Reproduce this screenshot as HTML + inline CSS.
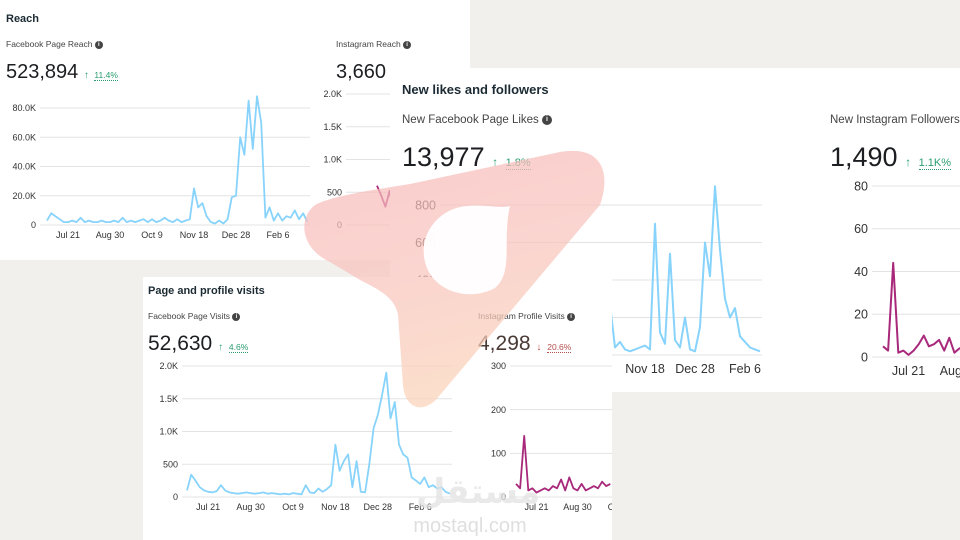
<!DOCTYPE html>
<html><head><meta charset="utf-8">
<style>
*{margin:0;padding:0;box-sizing:border-box}
body{width:960px;height:540px;overflow:hidden;background:#f1f0ed;font-family:"Liberation Sans",sans-serif;color:#1c1e21;position:relative}
.panel{position:absolute;background:#fff;overflow:hidden}
.t{position:absolute;white-space:nowrap}
.title{font-weight:bold;color:#1c2b33}
.sub{color:#444}
.num{color:#1c1e21}
.up{color:#2a9d6f}
.dn{color:#b5504d}
.pct{border-bottom:1px dotted currentColor}
.info{display:inline-block;border-radius:50%;background:#444;color:#fff;text-align:center;font-weight:bold;vertical-align:middle}
.panel svg{position:absolute;left:0;top:0;overflow:hidden}
.panel svg text{font-family:"Liberation Sans",sans-serif;fill:#333}
#logo{position:absolute;left:0;top:0}
</style></head><body>

<div class="panel" style="left:0;top:0;width:470px;height:260px">
  <div class="t title" style="left:6px;top:13px;font-size:11px">Reach</div>
  <div class="t sub" style="left:6px;top:39px;font-size:8.5px">Facebook Page Reach <span class="info" style="width:8px;height:8px;font-size:6px;line-height:8px">i</span></div>
  <div class="t num" style="left:6px;top:61px;font-size:20px">523,894 <span class="up" style="font-size:10px">↑</span> <span class="up pct" style="font-size:8.5px">11.4%</span></div>
  <div class="t sub" style="left:336px;top:39px;font-size:8.5px">Instagram Reach <span class="info" style="width:8px;height:8px;font-size:6px;line-height:8px">i</span></div>
  <div class="t num" style="left:336px;top:61px;font-size:20px">3,660</div>
  <svg id="s1" width="470" height="260"></svg>
</div>

<div class="panel" style="left:390px;top:68px;width:570px;height:324px">
  <div class="t title" style="left:12px;top:14px;font-size:13px">New likes and followers</div>
  <div class="t sub" style="left:12px;top:46px;font-size:11.5px">New Facebook Page Likes <span class="info" style="width:10px;height:10px;font-size:7px;line-height:10px">i</span></div>
  <div class="t num" style="left:12px;top:74px;font-size:27px">13,977 <span class="up" style="font-size:12px">↑</span> <span class="up pct" style="font-size:11px">1.8%</span></div>
  <div class="t sub" style="left:440px;top:46px;font-size:11.5px">New Instagram Followers</div>
  <div class="t num" style="left:440px;top:74px;font-size:27px">1,490 <span class="up" style="font-size:12px">↑</span> <span class="up pct" style="font-size:11px">1.1K%</span></div>
  <svg id="s2" width="570" height="324"></svg>
</div>

<div class="panel" style="left:143px;top:277px;width:469px;height:263px">
  <div class="t title" style="left:5px;top:8px;font-size:11px">Page and profile visits</div>
  <div class="t sub" style="left:5px;top:34px;font-size:8.5px">Facebook Page Visits <span class="info" style="width:8px;height:8px;font-size:6px;line-height:8px">i</span></div>
  <div class="t num" style="left:5px;top:55px;font-size:21px">52,630 <span class="up" style="font-size:10px">↑</span> <span class="up pct" style="font-size:8.5px">4.6%</span></div>
  <div class="t sub" style="left:335px;top:34px;font-size:8.5px">Instagram Profile Visits <span class="info" style="width:8px;height:8px;font-size:6px;line-height:8px">i</span></div>
  <div class="t num" style="left:335px;top:55px;font-size:21px;color:#4a3a36">4,298 <span class="dn" style="font-size:10px">↓</span> <span class="dn pct" style="font-size:8.5px">20.6%</span></div>
  <svg id="s3" width="469" height="263"></svg>
</div>

<svg id="logo" width="960" height="540" style="pointer-events:none">
  <defs><linearGradient id="lg" x1="0" y1="0" x2="0.3" y2="1">
    <stop offset="0" stop-color="#f7b9b9"/><stop offset="0.5" stop-color="#f8c3bd"/><stop offset="1" stop-color="#fad2b8"/></linearGradient></defs>
  <path d="M315,205 C330,197 360,192 410,184 L560,152 C600,145 612,170 600,205 L440,395 C425,415 405,410 403,385 L398,315 C395,298 380,290 360,280 L330,262 C300,248 298,218 315,205 Z" fill="url(#lg)" opacity="0.72"/>
  <path d="M510,206 C502,240 514,272 495,288 C470,302 432,292 425,262 C418,233 440,208 467,206 C485,204 500,209 510,206 Z" fill="#fff" opacity="0.95"/>
  <text x="478" y="503" text-anchor="middle" style="font-size:34px;fill:#e2e2e2;opacity:0.75;font-family:'DejaVu Sans',sans-serif;font-weight:bold">مستقل</text>
  <text x="470" y="532" text-anchor="middle" style="font-size:20px;fill:#dcdcdc;opacity:0.9;font-family:'Liberation Sans',sans-serif">mostaql.com</text>
</svg>

<script>
// Date index: one point every 4 days starting Jul 1
const xTickLabels = ["Jul 21","Aug 30","Oct 9","Nov 18","Dec 28","Feb 6"];
const xTickIdx = [5,15,25,35,45,55];
const fbReachK = [3,8,6,4,2, 2,3,2,5,2,3,2,2,3,2, 2,3,2,5,2,3,2,3,4,2, 4,2,3,5,3,2,4,2,3,4, 25,12,15,6,2,1,3,1,4,19, 20,60,48,85,52,88,70,5,12,3, 8,3,6,5,10,4,8,2];
const fbReachTicks = [0,20,40,60,80];
const fbReachTickLabels = ["0","20.0K","40.0K","60.0K","80.0K"];
const igReach = [600,450,280,520,150,100,80];
const igReachTicks = [0,500,1000,1500,2000];
const igReachTickLabels = ["0","500","1.0K","1.5K","2.0K"];
const fbLikes = [30,40,25,50,30,20,35,40,25,30,45,30,20,35,30,25,40,30,20,30,35,25,30,40,30,25,30,35,270,40,70,30,20,30,40,50,30,700,120,60,540,80,40,200,30,20,150,600,420,900,560,300,200,250,100,70,40,30,20];
const fbLikesTicks = [0,200,400,600,800];
const fbLikesTickLabels = ["0","200","400","600","800"];
const igFollowers = [5,3,44,2,3,1,3,6,10,5,6,8,3,9,2,4,5];
const igFollowersTicks = [0,20,40,60,80];
const igFollowersTickLabels = ["0","20","40","60","80"];
const fbVisits = [100,340,250,150,100,80,70,90,180,100,70,60,50,60,70,60,50,60,70,50,60,50,40,50,40,60,50,40,180,70,60,130,80,120,180,800,400,550,650,150,550,80,70,500,1050,1250,1550,1900,1200,1450,800,650,600,300,250,200,300,150,180,130,150,80,50];
const fbVisitsTicks = [0,500,1000,1500,2000];
const fbVisitsTickLabels = ["0","500","1.0K","1.5K","2.0K"];
const igVisits = [30,20,140,15,20,10,15,20,15,25,20,40,15,45,20,15,30,15,20,25,20,35,25,30];
const igVisitsTicks = [0,100,200,300];
const igVisitsTickLabels = ["0","100","200","300"];

const NS="http://www.w3.org/2000/svg";
function mk(svg,tag,attrs){const e=document.createElementNS(NS,tag);for(const k in attrs)e.setAttribute(k,attrs[k]);svg.appendChild(e);return e;}

function chart(svg,name,cfg,vals,ticks,tickLabels,color,xLabels,fs){
  const X=i=>cfg.x0+i*cfg.dx-cfg.ox, Y=v=>cfg.y0-v*cfg.ky-cfg.oy;
  ticks.forEach((t,k)=>{
    const g=mk(svg,'line',{x1:cfg.gx1-cfg.ox,x2:cfg.gx2-cfg.ox,y1:Y(t),y2:Y(t),stroke:'#e3e3e3','stroke-width':1});
    
    
    const tx=mk(svg,'text',{x:cfg.gx1-cfg.ox-4,y:Y(t)+fs*0.35,'font-size':fs,'text-anchor':'end'});
    tx.textContent=tickLabels[k];
    
    
  });
  if(xLabels){
    xTickIdx.forEach((ix,k)=>{
      const tx=mk(svg,'text',{x:X(ix),y:Y(0)+fs*1.45,'font-size':fs,'text-anchor':'middle'});
      tx.textContent=xTickLabels[k];
      
      
    });
  }
  const d=vals.map((v,i)=>(i?'L':'M')+X(i).toFixed(1)+','+Y(v).toFixed(1)).join(' ');
  const p=mk(svg,'path',{d:d,fill:'none',stroke:color,'stroke-width':cfg.sw||1.8,'stroke-linejoin':'round'});
  
  
}
const BLUE='#88d3fb', MAG='#a8287a';
const s1=document.getElementById('s1'), s2=document.getElementById('s2'), s3=document.getElementById('s3');
chart(s1,'fb-reach',{ox:0,oy:0,x0:47,dx:4.2,y0:225,ky:117/80,gx1:40,gx2:310},fbReachK,fbReachTicks,fbReachTickLabels,BLUE,true,9);
chart(s1,'ig-reach',{ox:0,oy:0,x0:377,dx:4.2,y0:225,ky:131/2000,gx1:346,gx2:470},igReach,igReachTicks,igReachTickLabels,MAG,false,9);
chart(s2,'fb-likes',{ox:390,oy:68,x0:470,dx:5,y0:355,ky:150/800,gx1:440,gx2:762,sw:2},fbLikes,fbLikesTicks,fbLikesTickLabels,BLUE,true,12.5);
chart(s2,'ig-followers',{ox:390,oy:68,x0:883,dx:5.1,y0:357,ky:171/80,gx1:872,gx2:975,sw:2},igFollowers,igFollowersTicks,igFollowersTickLabels,MAG,true,12.5);
chart(s3,'fb-visits',{ox:143,oy:277,x0:187,dx:4.24,y0:497,ky:131/2000,gx1:182,gx2:452},fbVisits,fbVisitsTicks,fbVisitsTickLabels,BLUE,true,9);
chart(s3,'ig-visits',{ox:143,oy:277,x0:516,dx:4.1,y0:497,ky:131/300,gx1:510,gx2:612},igVisits,igVisitsTicks,igVisitsTickLabels,MAG,true,9);
</script>
</body></html>
